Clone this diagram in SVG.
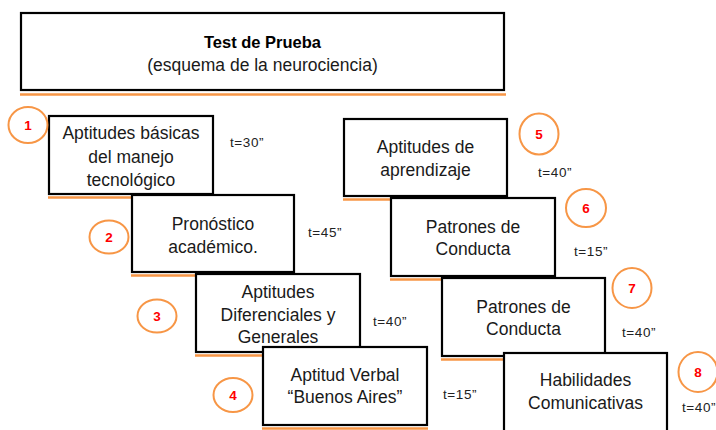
<svg xmlns="http://www.w3.org/2000/svg" width="716" height="430" viewBox="0 0 716 430">
<style>
.box{fill:#fff;stroke:#000;stroke-width:2.2}
.ul{stroke:#F79646;stroke-width:2.5}
.lbl{font-family:"Liberation Sans",Arial,sans-serif;font-size:17.5px;fill:#1a1a1a;text-anchor:middle}
.t{font-family:"Liberation Sans",Arial,sans-serif;font-size:13.5px;fill:#222;letter-spacing:0.6px}
.circ{fill:#fff;stroke:#F79646;stroke-width:2}
.num{font-family:"Liberation Sans",Arial,sans-serif;font-size:13.5px;font-weight:bold;fill:#FF0000;text-anchor:middle}
</style>
<rect width="716" height="430" fill="#fff"/>
<g id="title">
<line class="ul" x1="20" y1="94.5" x2="506" y2="94.5"/>
<rect class="box" x="21" y="13" width="483" height="77"/>
<text class="lbl" x="262.5" y="48" style="font-weight:bold;font-size:16.5px;fill:#000">Test de Prueba</text>
<text class="lbl" x="262.5" y="71">(esquema de la neurociencia)</text>
</g>
<g id="node1">
<line class="ul" x1="48" y1="197.5" x2="214" y2="197.5"/>
<rect class="box" x="49" y="116" width="164" height="78"/>
<text class="lbl" x="131" y="139">Aptitudes básicas</text>
<text class="lbl" x="131" y="163">del manejo</text>
<text class="lbl" x="131" y="186">tecnológico</text>
</g>
<g id="node2">
<line class="ul" x1="131" y1="275.5" x2="295" y2="275.5"/>
<rect class="box" x="132" y="195" width="162" height="77"/>
<text class="lbl" x="213" y="230">Pronóstico</text>
<text class="lbl" x="213" y="253">académico.</text>
</g>
<g id="node3">
<line class="ul" x1="195" y1="355.5" x2="361" y2="355.5"/>
<rect class="box" x="196" y="274" width="164" height="78"/>
<text class="lbl" x="278" y="298">Aptitudes</text>
<text class="lbl" x="278" y="321">Diferenciales y</text>
<text class="lbl" x="278" y="343">Generales</text>
</g>
<g id="node4">
<line class="ul" x1="262" y1="428.5" x2="428" y2="428.5"/>
<rect class="box" x="263" y="347" width="164" height="78"/>
<text class="lbl" x="345" y="381">Aptitud Verbal</text>
<text class="lbl" x="345" y="403">“Buenos Aires”</text>
</g>
<g id="node5">
<line class="ul" x1="343" y1="199.5" x2="508" y2="199.5"/>
<rect class="box" x="344" y="119" width="163" height="77"/>
<text class="lbl" x="425.5" y="153">Aptitudes de</text>
<text class="lbl" x="425.5" y="176">aprendizaje</text>
</g>
<g id="node6">
<line class="ul" x1="390" y1="279.5" x2="556" y2="279.5"/>
<rect class="box" x="391" y="198" width="164" height="78"/>
<text class="lbl" x="473" y="233">Patrones de</text>
<text class="lbl" x="473" y="255">Conducta</text>
</g>
<g id="node7">
<line class="ul" x1="441" y1="359.5" x2="606" y2="359.5"/>
<rect class="box" x="442" y="278" width="163" height="78"/>
<text class="lbl" x="523.5" y="313">Patrones de</text>
<text class="lbl" x="523.5" y="335">Conducta</text>
</g>
<g id="node8">
<rect class="box" x="504" y="353" width="163" height="80"/>
<text class="lbl" x="585.5" y="386">Habilidades</text>
<text class="lbl" x="585.5" y="409">Comunicativas</text>
</g>
<g id="badge1"><ellipse class="circ" cx="28" cy="125" rx="19.5" ry="18"/><text class="num" x="28" y="130">1</text></g>
<g id="badge2"><ellipse class="circ" cx="109" cy="237" rx="19.5" ry="16.5"/><text class="num" x="109" y="242">2</text></g>
<g id="badge3"><ellipse class="circ" cx="157" cy="316" rx="19.5" ry="16.5"/><text class="num" x="157" y="321">3</text></g>
<g id="badge4"><ellipse class="circ" cx="233" cy="395" rx="19.5" ry="17"/><text class="num" x="233" y="400">4</text></g>
<g id="badge5"><ellipse class="circ" cx="539" cy="134" rx="19.5" ry="20.5"/><text class="num" x="539" y="139">5</text></g>
<g id="badge6"><ellipse class="circ" cx="586" cy="208" rx="20" ry="19"/><text class="num" x="586" y="213">6</text></g>
<g id="badge7"><ellipse class="circ" cx="632" cy="288" rx="19.5" ry="20"/><text class="num" x="632" y="293">7</text></g>
<g id="badge8"><ellipse class="circ" cx="698" cy="372" rx="19.5" ry="20"/><text class="num" x="698" y="377">8</text></g>
<g id="times">
<text class="t" x="230" y="147">t=30”</text>
<text class="t" x="308" y="237">t=45”</text>
<text class="t" x="373" y="326">t=40”</text>
<text class="t" x="443" y="399">t=15”</text>
<text class="t" x="538" y="177">t=40”</text>
<text class="t" x="574" y="256">t=15”</text>
<text class="t" x="622" y="337">t=40”</text>
<text class="t" x="682" y="412">t=40”</text>
</g>
</svg>
